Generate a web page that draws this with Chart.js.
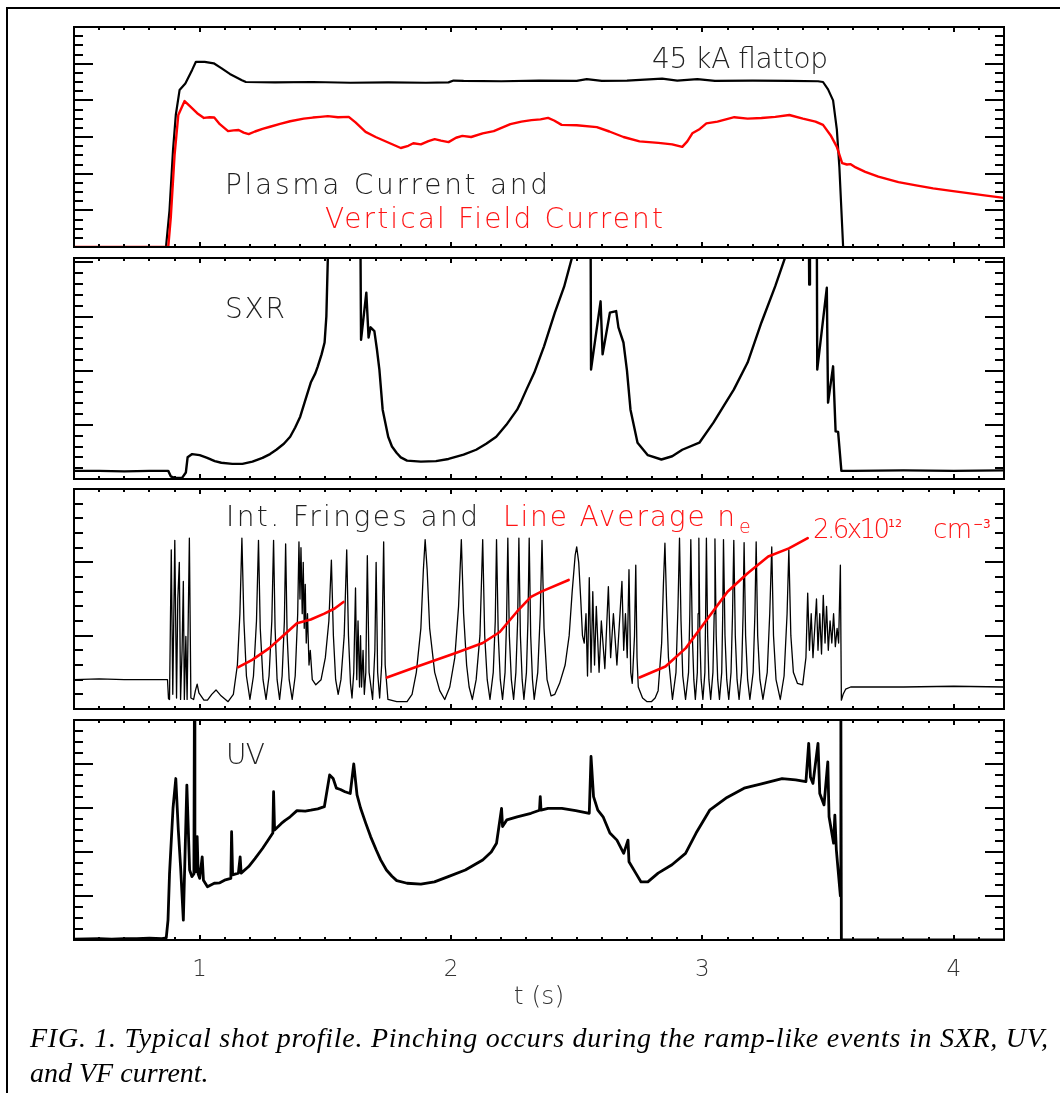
<!DOCTYPE html>
<html>
<head>
<meta charset="utf-8">
<script src="https://cdn.jsdelivr.net/npm/chart.js@4.4.0/dist/chart.umd.min.js"></script>
<style>
    body { margin: 0; background: #fff; width: 1060px; height: 1093px; position: relative; overflow: hidden; }
    .frame { position: absolute; left: 6px; top: 7px; width: 1100px; height: 1100px; border-left: 2px solid #000; border-top: 2px solid #000; }
    canvas { position: absolute; }
    svg { position: absolute; left: 0; top: 0; }
    .lb { font-family: "DejaVu Sans", sans-serif; font-weight: 200; font-size: 28px; fill: #222; }
    .red { fill: #ff1414; }
    .cap { font-family: "Liberation Serif", "Times New Roman", serif; font-style: italic; font-size: 28px; fill: #000; }
</style>
</head>
<body>
<div class="frame"></div>
<canvas id="p1"></canvas>
<canvas id="p2"></canvas>
<canvas id="p3"></canvas>
<canvas id="p4"></canvas>
<svg width="1060" height="1093">
    <text class="lb" x="652" y="68" textLength="176" lengthAdjust="spacing">45 kA flattop</text>
    <text class="lb" x="225" y="194" textLength="323" lengthAdjust="spacing">Plasma Current and</text>
    <text class="lb red" x="325" y="228" textLength="338" lengthAdjust="spacing">Vertical Field Current</text>
    <text class="lb" x="225" y="318" textLength="60" lengthAdjust="spacing">SXR</text>
    <text class="lb" x="226" y="526" textLength="252" lengthAdjust="spacing">Int. Fringes and</text>
    <text class="lb red" x="503" y="526" textLength="232" lengthAdjust="spacing">Line Average n</text>
    <text class="lb red" x="739" y="533" style="font-size:19px">e</text>
    <text class="lb red" x="813" y="538" textLength="77" lengthAdjust="spacing" style="font-size:26px">2.6x10</text>
    <text class="lb red" x="888" y="527" style="font-size:11px; font-weight:400">12</text>
    <text class="lb red" x="933" y="538" textLength="39" lengthAdjust="spacing" style="font-size:26px">cm</text>
    <text class="lb red" x="973" y="528" style="font-size:12px; font-weight:400">−3</text>
    <text class="lb" x="226" y="764" textLength="39" lengthAdjust="spacing">UV</text>
    <text class="cap" x="30" y="1047" textLength="1018" lengthAdjust="spacing">FIG. 1. Typical shot profile. Pinching occurs during the ramp-like events in SXR, UV,</text>
    <text class="cap" x="30" y="1082">and VF current.</text>
</svg>
<script>
// time axis (s)
const tMin = 0.5;
const tMax = 4.2;
const xTickLabels = [1, 2, 3, 4];

// panel 1: plasma current (kA)
const ipT = [0.50, 0.866, 0.88, 0.894, 0.905, 0.92, 0.943, 0.97, 0.985, 1.02, 1.056, 1.086, 1.12, 1.168, 1.184, 1.30, 1.45, 1.60, 1.75, 1.90, 1.99, 2.01, 2.05, 2.20, 2.35, 2.50, 2.54, 2.60, 2.70, 2.84, 2.90, 2.98, 3.05, 3.20, 3.35, 3.46, 3.48, 3.50, 3.52, 3.535, 3.545, 3.56, 3.60, 4.20];
const ipV = [0, 0, 10, 26.5, 36, 42.8, 44.6, 48.3, 50.5, 50.5, 50.1, 48.8, 47.2, 45.5, 45, 44.9, 45, 44.8, 44.9, 44.8, 44.9, 45.4, 45.3, 45.2, 45.4, 45.3, 45.8, 45.3, 45.4, 45.9, 45.4, 45.8, 45.3, 45.4, 45.3, 45.2, 45.0, 43, 40, 32, 21.8, 0, 0, 0];

// panel 1: vertical field current (same scale)
const vfT = [0.50, 0.875, 0.885, 0.90, 0.915, 0.94, 0.96, 0.99, 1.017, 1.04, 1.058, 1.08, 1.113, 1.135, 1.155, 1.175, 1.195, 1.22, 1.25, 1.28, 1.32, 1.36, 1.414, 1.45, 1.48, 1.51, 1.55, 1.593, 1.62, 1.66, 1.70, 1.75, 1.80, 1.83, 1.85, 1.88, 1.91, 1.935, 1.96, 1.99, 2.02, 2.045, 2.08, 2.126, 2.17, 2.236, 2.28, 2.32, 2.356, 2.386, 2.41, 2.44, 2.50, 2.58, 2.63, 2.686, 2.75, 2.825, 2.88, 2.92, 2.94, 2.96, 2.99, 3.016, 3.06, 3.127, 3.18, 3.235, 3.29, 3.346, 3.40, 3.45, 3.48, 3.51, 3.535, 3.556, 3.575, 3.59, 3.61, 3.648, 3.70, 3.78, 3.85, 3.918, 3.99, 4.057, 4.13, 4.20];
const vfV = [0, 0, 8, 25, 36, 39.8, 38.5, 36.5, 35.2, 35.4, 35.3, 33.5, 31.6, 31.8, 31.9, 31.2, 30.8, 31.5, 32.2, 32.8, 33.6, 34.3, 35.0, 35.3, 35.5, 35.7, 35.4, 35.5, 34.0, 31.4, 30.0, 28.5, 27.0, 27.6, 28.3, 28.0, 28.9, 29.4, 29.0, 28.6, 29.8, 30.3, 30.0, 31.0, 31.6, 33.5, 34.2, 34.6, 34.8, 35.2, 34.5, 33.3, 33.2, 32.7, 31.5, 30.0, 28.8, 28.4, 28.0, 27.3, 28.8, 31.0, 32.2, 33.7, 34.2, 35.4, 35.0, 35.2, 35.5, 36.0, 35.0, 34.2, 33.3, 30.5, 27.3, 22.9, 22.5, 22.6, 21.7, 20.5, 19.2, 17.7, 16.8, 16.0, 15.3, 14.7, 14.0, 13.4];

// panel 2: soft x-ray (arb.)
const sxT = [0.50, 0.60, 0.70, 0.80, 0.875, 0.885, 0.90, 0.93, 0.945, 0.952, 0.97, 1.00, 1.03, 1.06, 1.086, 1.13, 1.17, 1.21, 1.25, 1.28, 1.305, 1.335, 1.36, 1.38, 1.40, 1.42, 1.442, 1.46, 1.47, 1.485, 1.497, 1.504, 1.51, 1.515, 1.638, 1.64, 1.642, 1.663, 1.672, 1.68, 1.695, 1.705, 1.715, 1.728, 1.75, 1.765, 1.784, 1.80, 1.825, 1.88, 1.94, 1.99, 2.05, 2.10, 2.14, 2.18, 2.22, 2.263, 2.277, 2.30, 2.331, 2.37, 2.413, 2.45, 2.482, 2.49, 2.555, 2.557, 2.595, 2.603, 2.632, 2.657, 2.666, 2.686, 2.70, 2.714, 2.742, 2.783, 2.837, 2.88, 2.92, 2.988, 3.044, 3.085, 3.125, 3.18, 3.235, 3.29, 3.33, 3.34, 3.423, 3.425, 3.428, 3.455, 3.457, 3.495, 3.50, 3.52, 3.53, 3.54, 3.553, 3.60, 3.80, 4.00, 4.20];
const sxV = [0.15, 0.15, 0.14, 0.15, 0.15, 0.05, 0.02, 0.02, 0.12, 0.40, 0.46, 0.44, 0.39, 0.33, 0.30, 0.28, 0.28, 0.32, 0.39, 0.46, 0.54, 0.65, 0.78, 0.95, 1.15, 1.45, 1.78, 1.95, 2.08, 2.30, 2.52, 3.0, 4.1, 5, 5, 4.1, 2.57, 3.44, 2.61, 2.8, 2.73, 2.4, 2.02, 1.28, 0.78, 0.6, 0.48, 0.40, 0.34, 0.32, 0.33, 0.37, 0.45, 0.54, 0.65, 0.78, 1.0, 1.28, 1.41, 1.65, 1.96, 2.45, 3.07, 3.55, 4.1, 5, 5, 2.02, 3.28, 2.3, 3.07, 3.1, 2.8, 2.52, 2.0, 1.28, 0.67, 0.44, 0.36, 0.42, 0.54, 0.67, 1.04, 1.35, 1.65, 2.15, 2.89, 3.56, 4.1, 5, 5, 3.59, 5, 5, 2.02, 3.53, 1.41, 2.08, 0.88, 0.87, 0.15, 0.15, 0.16, 0.15, 0.16];

// panel 3: interferometer fringes (arb.)
const frT = [0.50, 0.60, 0.70, 0.80, 0.872, 0.876, 0.880, 0.887, 0.893, 0.901, 0.908, 0.913, 0.919, 0.924, 0.930, 0.935, 0.939, 0.945, 0.950, 0.959, 0.965, 0.976, 0.983, 0.990, 0.997, 1.017, 1.031, 1.048, 1.065, 1.085, 1.113, 1.134, 1.150, 1.160, 1.168, 1.176, 1.186, 1.200, 1.214, 1.226, 1.234, 1.241, 1.252, 1.264, 1.276, 1.287, 1.294, 1.300, 1.308, 1.318, 1.328, 1.337, 1.342, 1.348, 1.356, 1.368, 1.380, 1.390, 1.395, 1.399, 1.403, 1.408, 1.412, 1.416, 1.420, 1.424, 1.429, 1.435, 1.440, 1.448, 1.462, 1.483, 1.500, 1.514, 1.524, 1.532, 1.541, 1.551, 1.562, 1.575, 1.585, 1.592, 1.600, 1.606, 1.613, 1.620, 1.625, 1.630, 1.636, 1.640, 1.644, 1.650, 1.655, 1.661, 1.667, 1.674, 1.688, 1.697, 1.702, 1.708, 1.716, 1.724, 1.732, 1.738, 1.749, 1.784, 1.825, 1.845, 1.862, 1.880, 1.890, 1.897, 1.905, 1.915, 1.935, 1.955, 1.975, 1.995, 2.015, 2.030, 2.041, 2.050, 2.062, 2.072, 2.085, 2.100, 2.115, 2.126, 2.134, 2.144, 2.155, 2.168, 2.176, 2.181, 2.188, 2.196, 2.205, 2.215, 2.221, 2.226, 2.232, 2.240, 2.249, 2.258, 2.265, 2.270, 2.276, 2.283, 2.290, 2.300, 2.306, 2.311, 2.317, 2.324, 2.331, 2.345, 2.355, 2.362, 2.370, 2.382, 2.398, 2.413, 2.432, 2.454, 2.470, 2.482, 2.494, 2.500, 2.508, 2.516, 2.523, 2.530, 2.537, 2.543, 2.550, 2.557, 2.564, 2.571, 2.578, 2.589, 2.598, 2.612, 2.626, 2.635, 2.646, 2.660, 2.674, 2.680, 2.687, 2.694, 2.701, 2.708, 2.715, 2.721, 2.730, 2.735, 2.740, 2.745, 2.762, 2.780, 2.797, 2.812, 2.824, 2.838, 2.845, 2.851, 2.858, 2.865, 2.881, 2.895, 2.903, 2.909, 2.915, 2.922, 2.933, 2.945, 2.950, 2.954, 2.960, 2.966, 2.972, 2.980, 2.983, 2.986, 2.990, 2.995, 3.002, 3.010, 3.013, 3.016, 3.021, 3.026, 3.033, 3.042, 3.047, 3.050, 3.055, 3.061, 3.068, 3.077, 3.081, 3.084, 3.090, 3.097, 3.105, 3.114, 3.120, 3.125, 3.131, 3.138, 3.146, 3.156, 3.162, 3.166, 3.172, 3.180, 3.189, 3.202, 3.209, 3.214, 3.220, 3.229, 3.241, 3.258, 3.268, 3.276, 3.283, 3.293, 3.310, 3.325, 3.337, 3.344, 3.352, 3.362, 3.378, 3.399, 3.412, 3.419, 3.426, 3.433, 3.440, 3.447, 3.454, 3.460, 3.467, 3.474, 3.481, 3.488, 3.494, 3.501, 3.508, 3.515, 3.522, 3.529, 3.536, 3.542, 3.549, 3.553, 3.560, 3.570, 3.590, 3.80, 4.00, 4.20];
const frV = [0.40, 0.41, 0.40, 0.40, 0.40, 0.14, 0.13, 2.17, 0.20, 2.30, 0.15, 1.50, 2.00, 0.13, 0.8, 1.74, 0.13, 0.99, 0.13, 2.33, 0.15, 0.13, 0.25, 0.34, 0.22, 0.12, 0.12, 0.20, 0.26, 0.18, 0.10, 0.20, 0.60, 1.30, 2.33, 1.20, 0.45, 0.13, 0.45, 1.20, 2.30, 1.10, 0.40, 0.13, 0.45, 1.20, 2.30, 1.10, 0.40, 0.13, 0.45, 1.20, 2.25, 1.00, 0.40, 0.13, 0.45, 1.30, 2.28, 1.5, 2.2, 1.3, 2.0, 1.1, 1.7, 0.9, 1.3, 0.6, 0.8, 0.40, 0.33, 0.40, 0.70, 1.20, 2.03, 1.00, 0.40, 0.20, 0.40, 1.00, 2.17, 1.00, 0.35, 0.15, 0.50, 1.65, 0.40, 1.20, 0.30, 1.00, 0.30, 0.80, 0.20, 0.50, 2.09, 0.50, 0.13, 0.80, 2.00, 0.50, 0.15, 0.60, 2.28, 0.60, 0.13, 0.10, 0.10, 0.20, 0.50, 1.10, 1.90, 2.31, 1.90, 1.10, 0.50, 0.25, 0.13, 0.30, 0.70, 1.40, 2.31, 1.30, 0.60, 0.30, 0.13, 0.40, 1.00, 2.31, 1.00, 0.40, 0.13, 0.50, 1.20, 2.31, 1.00, 0.40, 0.13, 0.50, 1.20, 2.33, 1.00, 0.40, 0.13, 0.50, 1.20, 2.33, 1.00, 0.40, 0.13, 0.50, 1.20, 2.33, 1.00, 0.40, 0.13, 0.50, 1.30, 2.30, 1.10, 0.40, 0.18, 0.20, 0.35, 0.60, 1.00, 1.60, 2.10, 2.21, 2.00, 1.50, 1.00, 0.90, 1.3, 0.45, 1.79, 0.50, 1.60, 0.60, 1.40, 0.50, 1.20, 0.55, 1.67, 0.70, 1.30, 0.60, 1.40, 1.74, 0.80, 1.30, 0.70, 1.90, 0.50, 0.35, 1.00, 1.96, 0.70, 0.30, 0.15, 0.10, 0.10, 0.15, 0.25, 0.90, 1.70, 2.26, 1.40, 0.70, 0.13, 0.50, 1.40, 2.33, 1.20, 0.45, 0.13, 0.50, 1.30, 2.31, 1.00, 0.40, 0.13, 0.50, 1.30, 2.33, 1.00, 0.40, 0.13, 0.50, 1.30, 2.33, 1.00, 0.40, 0.13, 0.50, 1.30, 2.32, 1.00, 0.40, 0.13, 0.50, 1.30, 2.31, 1.00, 0.40, 0.13, 0.50, 1.30, 2.30, 1.00, 0.40, 0.13, 0.50, 1.30, 2.27, 1.00, 0.40, 0.13, 0.50, 1.30, 2.28, 1.00, 0.40, 0.13, 0.50, 1.30, 2.21, 1.00, 0.40, 0.13, 0.45, 1.30, 2.17, 1.00, 0.50, 0.35, 0.33, 0.70, 1.58, 0.80, 1.30, 0.70, 1.10, 1.50, 0.80, 1.30, 0.75, 1.55, 0.90, 1.40, 0.80, 1.20, 0.90, 1.30, 0.85, 1.10, 0.90, 1.96, 0.12, 0.20, 0.27, 0.30, 0.30, 0.31, 0.30];

// panel 3: line average density, three segments (null = gap)
const neT = [1.154, 1.209, 1.277, 1.332, 1.387, 1.442, 1.496, 1.537, 1.572, 1.65, 1.745, 1.866, 2.016, 2.126, 2.194, 2.263, 2.318, 2.359, 2.468, 2.6, 2.75, 2.853, 2.934, 3.016, 3.10, 3.18, 3.262, 3.344, 3.419];
const neV = [0.57, 0.67, 0.83, 1.00, 1.17, 1.22, 1.30, 1.37, 1.46, null, 0.43, 0.58, 0.76, 0.90, 1.05, 1.33, 1.53, 1.60, 1.76, null, 0.43, 0.58, 0.83, 1.21, 1.60, 1.85, 2.08, 2.19, 2.33];

// panel 4: UV (arb.)
const uvT = [0.50, 0.60, 0.65, 0.70, 0.75, 0.80, 0.85, 0.867, 0.874, 0.880, 0.894, 0.905, 0.915, 0.924, 0.935, 0.942, 0.949, 0.960, 0.969, 0.977, 0.979, 0.981, 0.985, 0.990, 0.994, 1.000, 1.010, 1.015, 1.031, 1.058, 1.080, 1.099, 1.124, 1.127, 1.131, 1.154, 1.161, 1.165, 1.195, 1.220, 1.250, 1.270, 1.291, 1.294, 1.298, 1.325, 1.340, 1.360, 1.387, 1.420, 1.442, 1.470, 1.496, 1.517, 1.531, 1.544, 1.560, 1.578, 1.599, 1.613, 1.626, 1.640, 1.661, 1.680, 1.702, 1.720, 1.743, 1.765, 1.784, 1.825, 1.880, 1.934, 1.989, 2.057, 2.126, 2.160, 2.181, 2.201, 2.205, 2.222, 2.263, 2.318, 2.352, 2.355, 2.358, 2.386, 2.441, 2.496, 2.550, 2.557, 2.567, 2.584, 2.605, 2.632, 2.660, 2.687, 2.704, 2.708, 2.735, 2.756, 2.783, 2.824, 2.879, 2.933, 2.975, 3.029, 3.098, 3.166, 3.235, 3.317, 3.371, 3.412, 3.423, 3.430, 3.440, 3.460, 3.467, 3.484, 3.499, 3.504, 3.522, 3.527, 3.533, 3.549, 3.551, 3.553, 4.20];
const uvV = [0.02, 0.03, 0.02, 0.03, 0.03, 0.04, 0.03, 0.05, 0.45, 1.50, 3.00, 3.67, 2.50, 1.67, 0.45, 2.00, 3.52, 1.59, 1.44, 1.50, 5.20, 1.60, 1.55, 2.35, 1.50, 1.40, 1.89, 1.36, 1.21, 1.29, 1.30, 1.36, 1.40, 2.46, 1.48, 1.52, 1.89, 1.52, 1.67, 1.85, 2.08, 2.25, 2.43, 3.37, 2.50, 2.65, 2.72, 2.80, 2.94, 2.93, 2.95, 2.98, 3.03, 3.75, 3.67, 3.45, 3.42, 3.37, 3.33, 4.00, 3.30, 3.00, 2.65, 2.35, 2.05, 1.82, 1.59, 1.45, 1.35, 1.29, 1.27, 1.32, 1.44, 1.59, 1.82, 2.00, 2.20, 2.99, 2.58, 2.73, 2.80, 2.88, 2.95, 3.26, 2.95, 2.99, 2.99, 2.94, 2.88, 4.17, 3.26, 2.95, 2.80, 2.43, 2.27, 1.97, 2.27, 1.78, 1.52, 1.32, 1.32, 1.52, 1.71, 1.97, 2.43, 2.95, 3.24, 3.45, 3.55, 3.67, 3.64, 3.60, 4.47, 3.70, 3.56, 4.47, 3.33, 3.07, 4.05, 2.80, 2.20, 2.84, 2.05, 1.00, 5.20, 0, 0];

const pts = (ts, vs) => ts.map((t, i) => ({ x: t, y: vs[i] }));

const PAD = 6;
const AREA_LEFT = 74;
const AREA_WIDTH = 930;
const AXIS_H = 72;
const labelFont = { family: 'DejaVu Sans', size: 23, weight: 200 };

// boxed frame with inward ticks on all four sides, IDL style
const frameTicks = {
    id: 'frameTicks',
    afterDraw(chart, args, opts) {
        const { ctx, chartArea: a, scales: { x, y } } = chart;
        ctx.save();
        ctx.strokeStyle = '#000';
        ctx.lineWidth = 2;
        ctx.beginPath();
        for (let i = 5; i <= 42; i++) {
            const px = Math.round(x.getPixelForValue(i / 10));
            const len = i % 10 === 0 ? 5 : 3;
            ctx.moveTo(px, a.top); ctx.lineTo(px, a.top + len);
            ctx.moveTo(px, a.bottom); ctx.lineTo(px, a.bottom - len);
        }
        const n = Math.round(y.max / opts.yStep + 0.0001);
        for (let j = 0; j <= n; j++) {
            const py = Math.round(y.getPixelForValue(j * opts.yStep));
            const len = j % opts.yMajor === 0 ? 19 : 9;
            ctx.moveTo(a.left, py); ctx.lineTo(a.left + len, py);
            ctx.moveTo(a.right, py); ctx.lineTo(a.right - len, py);
        }
        ctx.stroke();
        ctx.strokeRect(a.left, a.top, a.right - a.left, a.bottom - a.top);
        ctx.restore();
    }
};

function makePanel(id, top, height, yMax, yStep, yMajor, datasets, bottomAxis) {
    const cv = document.getElementById(id);
    cv.width = AREA_WIDTH + 2 * PAD;
    cv.height = height + PAD + (bottomAxis ? AXIS_H : PAD);
    cv.style.left = (AREA_LEFT - PAD) + 'px';
    cv.style.top = (top - PAD) + 'px';

    const xScale = { type: 'linear', min: tMin, max: tMax, display: false };
    if (bottomAxis) {
        Object.assign(xScale, {
            display: true,
            grid: { display: false, drawTicks: false },
            border: { display: false },
            afterBuildTicks: s => { s.ticks = xTickLabels.map(v => ({ value: v })); },
            afterFit: s => { s.height = AXIS_H; },
            ticks: { font: labelFont, color: '#333', padding: 16, maxRotation: 0, autoSkip: false },
            title: { display: true, text: 't (s)', font: { family: 'DejaVu Sans', size: 25, weight: 200 }, color: '#333', padding: 0 }
        });
    }

    return new Chart(cv, {
        type: 'line',
        data: { datasets },
        options: {
            responsive: false,
            animation: false,
            events: [],
            layout: { padding: { left: PAD, right: PAD, top: PAD, bottom: bottomAxis ? 0 : PAD } },
            elements: {
                point: { radius: 0 },
                line: { tension: 0, borderJoinStyle: 'round', borderCapStyle: 'round' }
            },
            scales: {
                x: xScale,
                y: { type: 'linear', min: 0, max: yMax, display: false }
            },
            plugins: {
                legend: { display: false },
                tooltip: { enabled: false },
                frameTicks: { yStep, yMajor }
            }
        },
        plugins: [frameTicks]
    });
}

// first dataset is drawn on top
makePanel('p1', 27, 220, 60, 2.5, 4, [
    { data: pts(vfT, vfV), borderColor: '#ff0000', borderWidth: 2.4 },
    { data: pts(ipT, ipV), borderColor: '#000', borderWidth: 2.2 }
]);
makePanel('p2', 258, 221, 4.08, 0.2, 5, [
    { data: pts(sxT, sxV), borderColor: '#000', borderWidth: 2.4 }
]);
makePanel('p3', 489, 220, 3, 0.2, 5, [
    { data: pts(neT, neV), borderColor: '#ff0000', borderWidth: 2.6 },
    { data: pts(frT, frV), borderColor: '#000', borderWidth: 1.3 }
]);
makePanel('p4', 720, 220, 5, 0.25, 4, [
    { data: pts(uvT, uvV), borderColor: '#000', borderWidth: 2.8 }
], true);
</script>
</body>
</html>
